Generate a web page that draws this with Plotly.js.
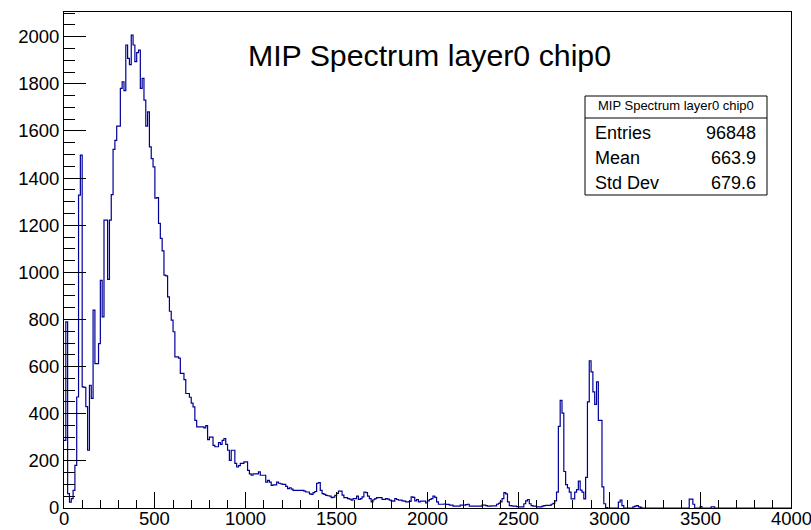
<!DOCTYPE html>
<html>
<head>
<meta charset="utf-8">
<script src="https://cdn.plot.ly/plotly-3.0.1.min.js"></script>
<style>html,body{margin:0;padding:0;background:#fff;}#chart{width:811px;height:530px;}</style>
</head>
<body>
<div id="chart"></div>
<script>
// Histogram definition: 400 bins of width 10 from 0 to 4000
const binLow = 0;
const binWidth = 10;
const counts = [
  287, 790, 61, 25, 40, 75, 181, 471, 1328, 1498,
  514, 512, 430, 245, 521, 465, 840, 613, 613, 698,
  966, 811, 1222, 1222, 970, 1222, 1330, 1522, 1560, 1621,
  1621, 1781, 1809, 1771, 1965, 1908, 1882, 2007, 1965, 1894,
  1933, 1943, 1781, 1823, 1731, 1621, 1681, 1533, 1483, 1448,
  1315, 1317, 1208, 1144, 1091, 988, 985, 896, 835, 797,
  748, 641, 641, 636, 571, 571, 545, 486, 486, 470,
  445, 429, 372, 344, 344, 344, 344, 340, 350, 290,
  301, 301, 266, 260, 260, 278, 270, 287, 295, 270,
  245, 202, 245, 245, 189, 174, 180, 189, 189, 196,
  196, 160, 145, 139, 145, 145, 145, 153, 139, 139,
  139, 110, 117, 110, 96, 98, 98, 110, 105, 103,
  100, 100, 92, 82, 86, 80, 75, 75, 75, 75,
  75, 75, 72, 68, 68, 60, 58, 65, 70, 105,
  108, 75, 61, 58, 54, 52, 50, 44, 46, 54,
  62, 72, 72, 55, 44, 44, 40, 38, 33, 40,
  40, 50, 36, 40, 47, 68, 65, 50, 40, 26,
  35, 40, 44, 44, 44, 37, 37, 40, 38, 33,
  30, 29, 40, 36, 33, 33, 30, 29, 26, 26,
  28, 47, 45, 30, 36, 26, 29, 29, 29, 22,
  30, 36, 40, 50, 45, 26, 16, 16, 16, 17,
  15, 15, 12, 12, 8, 8, 8, 8, 12, 12,
  12, 14, 16, 8, 8, 8, 8, 8, 8, 8,
  12, 12, 10, 8, 8, 9, 9, 9, 16, 20,
  26, 40, 65, 60, 26, 10, 9, 8, 8, 6,
  5, 5, 5, 18, 30, 36, 18, 10, 8, 8,
  5, 5, 5, 8, 10, 11, 11, 11, 16, 20,
  30, 67, 346, 457, 403, 155, 99, 85, 67, 39,
  39, 67, 78, 114, 76, 67, 39, 130, 450, 625,
  578, 493, 440, 535, 372, 372, 90, 18, 2, 0,
  0, 0, 0, 0, 0, 25, 33, 10, 0, 0,
  0, 0, 0, 5, 8, 10, 5, 3, 0, 0,
  0, 0, 0, 0, 0, 0, 0, 0, 0, 0,
  0, 0, 0, 0, 0, 0, 0, 0, 0, 0,
  0, 0, 0, 0, 38, 38, 16, 0, 0, 0,
  6, 0, 0, 0, 0, 0, 5, 5, 0, 0,
  0, 0, 0, 0, 0, 0, 0, 0, 0, 0,
  0, 0, 0, 0, 0, 0, 0, 0, 0, 0,
  0, 0, 0, 0, 0, 0, 0, 0, 0, 0,
  0, 0, 0, 0, 0, 0, 0, 0, 0, 0
];
const histTitle = "MIP Spectrum layer0 chip0";
const statLabels = ["Entries", "Mean", "Std Dev"];
const statValues = ["96848", "663.9", "679.6"];
const xTickValues = [0, 500, 1000, 1500, 2000, 2500, 3000, 3500, 4000];
const xTickLabels = ["0", "500", "1000", "1500", "2000", "2500", "3000", "3500", "4000"];

// step outline: left edges + final right edge
const xs = counts.map((c, i) => binLow + i * binWidth);
xs.push(binLow + counts.length * binWidth);
const ys = counts.slice();
ys.push(counts[counts.length - 1]);

const FONT = "Liberation Sans, Arial, Helvetica, sans-serif";
const L = 64, R = 791, T = 12, B = 508;
const px = x => (x - L) / (R - L);
const py = y => (B - y) / (B - T);

const trace = {
  type: "scatter", mode: "lines", x: xs, y: ys,
  line: {shape: "hv", color: "#000099", width: 1.2},
  hoverinfo: "skip", showlegend: false
};

const statRowsY = [133, 158, 183];
const annotations = [
  {xref: "paper", yref: "paper", x: px(676), y: py(105), text: histTitle, showarrow: false,
   xanchor: "center", yanchor: "middle", font: {family: FONT, size: 13, color: "#000"}}
];
statLabels.forEach((lab, i) => {
  annotations.push({xref: "paper", yref: "paper", x: px(593), y: py(statRowsY[i]), text: lab, showarrow: false,
    xanchor: "left", yanchor: "middle", font: {family: FONT, size: 18, color: "#000"}});
  annotations.push({xref: "paper", yref: "paper", x: px(758), y: py(statRowsY[i]), text: statValues[i], showarrow: false,
    xanchor: "right", yanchor: "middle", font: {family: FONT, size: 18, color: "#000"}});
});
xTickValues.forEach((v, i) => {
  annotations.push({xref: "x", yref: "paper", x: v, y: py(518), text: xTickLabels[i], showarrow: false,
    xanchor: "center", yanchor: "middle", borderpad: 0,
    font: {family: FONT, size: 18.5, color: "#000"}});
});

const layout = {
  width: 811, height: 530,
  margin: {l: L, r: 811 - R, t: T, b: 530 - B},
  paper_bgcolor: "#fff", plot_bgcolor: "#fff",
  title: {text: histTitle, xref: "container", yref: "container", x: 429.5 / 811, y: 1 - 55 / 530,
          xanchor: "center", yanchor: "middle", font: {family: FONT, size: 30.3, color: "#000"}},
  xaxis: {
    range: [0, 4000], showgrid: false, zeroline: false,
    showline: true, linecolor: "#000", linewidth: 1, mirror: true,
    ticks: "inside", ticklen: 16, tickwidth: 1, tickcolor: "#000",
    tick0: 0, dtick: 500, showticklabels: false,
    minor: {ticks: "inside", ticklen: 8, tickcolor: "#000", tickwidth: 1, dtick: 100, showgrid: false}
  },
  yaxis: {
    range: [0, 2105], showgrid: false, zeroline: false,
    showline: true, linecolor: "#000", linewidth: 1, mirror: true,
    ticks: "inside", ticklen: 22, tickwidth: 1, tickcolor: "#000",
    tick0: 0, dtick: 200,
    minor: {ticks: "inside", ticklen: 11, tickcolor: "#000", tickwidth: 1, dtick: 50, showgrid: false},
    tickfont: {family: FONT, size: 18.5, color: "#000"}
  },
  shapes: [
    {type: "rect", xref: "paper", yref: "paper", x0: px(585), x1: px(767), y0: py(195), y1: py(96),
     line: {color: "#000", width: 1}, fillcolor: "#fff", layer: "above"},
    {type: "line", xref: "paper", yref: "paper", x0: px(585), x1: px(767), y0: py(118), y1: py(118),
     line: {color: "#000", width: 1}, layer: "above"}
  ],
  annotations: annotations
};

Plotly.newPlot("chart", [trace], layout, {staticPlot: true, displayModeBar: false});
</script>
</body>
</html>
